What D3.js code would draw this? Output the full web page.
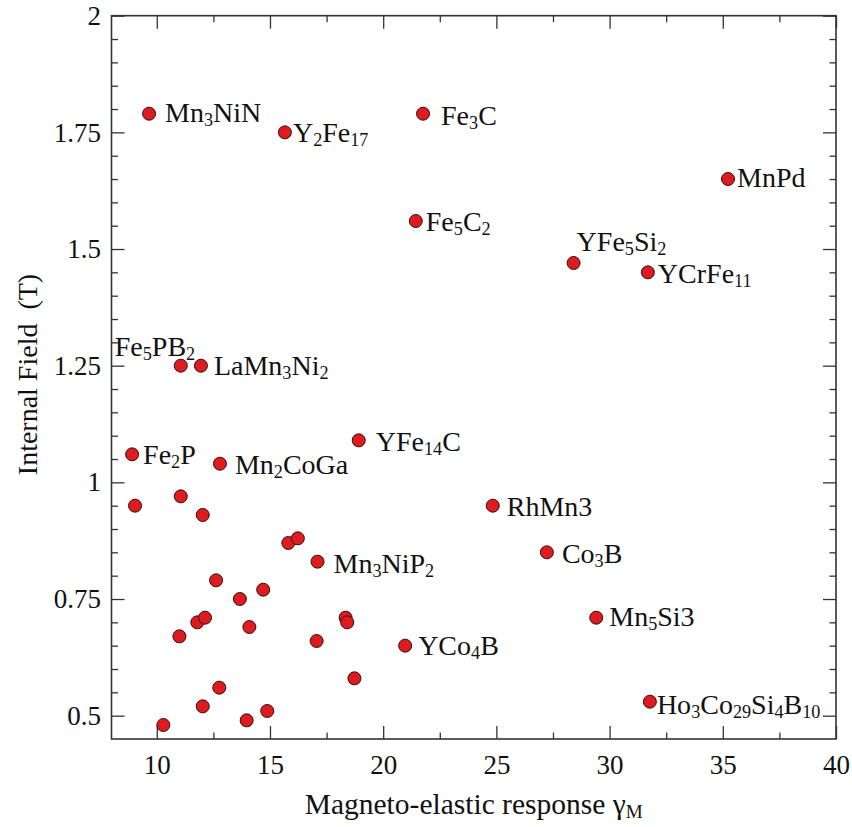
<!DOCTYPE html>
<html>
<head>
<meta charset="utf-8">
<script src="https://cdn.jsdelivr.net/npm/d3@7"></script>
<style>
  html, body { margin: 0; padding: 0; background: #fff; }
  svg { display: block; }
  text { font-family: "Liberation Serif", "Times New Roman", serif; fill: #111; }
</style>
</head>
<body>
<svg id="chart" width="852" height="827"></svg>
<script>
// Compounds: "_n" marks a subscript; empty string means an unlabeled point
const compounds = [
  "Mn_3NiN", "Y_2Fe_17", "Fe_3C", "Fe_5C_2", "MnPd", "YFe_5Si_2", "YCrFe_11",
  "Fe_5PB_2", "LaMn_3Ni_2", "Fe_2P", "Mn_2CoGa", "YFe_14C", "RhMn3", "Co_3B",
  "Mn_5Si3", "Mn_3NiP_2", "YCo_4B", "Ho_3Co_29Si_4B_10",
  "", "", "", "", "", "", "", "", "", "", "", "", "", "", "", "", "", "", "", "", ""
];
// Magneto-elastic response γ_M
const gammaM = [
  9.66, 15.66, 21.76, 21.44, 35.23, 28.41, 31.69,
  11.06, 11.95, 8.91, 12.79, 18.92, 24.84, 27.23,
  29.41, 17.1, 20.97, 31.78,
  9.04, 11.06, 12.03, 15.81, 16.23, 12.62, 13.67, 14.70, 11.79, 12.13, 14.09,
  11.0, 18.34, 18.41, 17.06, 18.73, 12.76, 12.03, 14.88, 13.97, 10.29
];
// Internal field (T)
const internalField = [
  1.79, 1.75, 1.79, 1.56, 1.65, 1.47, 1.45,
  1.25, 1.25, 1.06, 1.04, 1.09, 0.95, 0.85,
  0.71, 0.83, 0.65, 0.53,
  0.95, 0.97, 0.93, 0.87, 0.88, 0.79, 0.75, 0.77, 0.70, 0.71, 0.69,
  0.67, 0.71, 0.70, 0.66, 0.58, 0.56, 0.52, 0.51, 0.49, 0.48
];
const xMajorTicks = [10, 15, 20, 25, 30, 35, 40];
const xMinorTicks = [12.5, 17.5, 22.5, 27.5, 32.5, 37.5];
const yMajorTicks = [0.5, 0.75, 1, 1.25, 1.5, 1.75, 2];
const yMinorTicks = [0.55, 0.6, 0.65, 0.7, 0.8, 0.85, 0.9, 0.95, 1.05, 1.1, 1.15, 1.2,
                     1.3, 1.35, 1.4, 1.45, 1.55, 1.6, 1.65, 1.7, 1.8, 1.85, 1.9, 1.95];

// Label placement relative to each marker (pixels: dx, dy to text baseline)
const labelNudge = [
  [16, 8], [8, 10], [18, 11], [10, 10], [9, 8], [3, -12], [10, 11],
  [-66, -10], [13, 9], [11, 10], [15, 10], [17, 11], [14, 10], [15, 11],
  [13, 8], [16, 11], [13, 9], [7, 12]
];

const svg = d3.select("#chart");
const plot = { left: 111.5, right: 836, top: 15.7, bottom: 739 };

const x = d3.scaleLinear().domain([8, 40]).range([plot.left, plot.right]);
const y = d3.scaleLinear().domain([0.45, 2]).range([plot.bottom, plot.top]);

const axisColor = "#333";
const tickFont = 27;
const labelFont = 28;
const fmt = d => String(+d.toFixed(2));

function styleAxis(g) {
  g.attr("font-family", null);
  g.select(".domain").remove();
  g.selectAll(".tick line").attr("stroke", axisColor).attr("stroke-width", 1.3);
  g.selectAll(".tick text").attr("font-size", tickFont).attr("fill", "#111");
}

// Bottom axis (labelled) and top mirror, ticks pointing inward
svg.append("g").attr("transform", `translate(0,${plot.bottom})`)
  .call(d3.axisBottom(x).tickValues(xMajorTicks).tickSize(-13).tickPadding(16).tickFormat(fmt))
  .call(styleAxis);
svg.append("g").attr("transform", `translate(0,${plot.bottom})`)
  .call(d3.axisBottom(x).tickValues(xMinorTicks).tickSize(-6.5).tickFormat(""))
  .call(styleAxis);
svg.append("g").attr("transform", `translate(0,${plot.top})`)
  .call(d3.axisTop(x).tickValues(xMajorTicks).tickSize(-13).tickFormat(""))
  .call(styleAxis);
svg.append("g").attr("transform", `translate(0,${plot.top})`)
  .call(d3.axisTop(x).tickValues(xMinorTicks).tickSize(-6.5).tickFormat(""))
  .call(styleAxis);

// Left axis (labelled) and right mirror
svg.append("g").attr("transform", `translate(${plot.left},0)`)
  .call(d3.axisLeft(y).tickValues(yMajorTicks).tickSize(-13).tickPadding(10.5).tickFormat(fmt))
  .call(styleAxis);
svg.append("g").attr("transform", `translate(${plot.left},0)`)
  .call(d3.axisLeft(y).tickValues(yMinorTicks).tickSize(-6.5).tickFormat(""))
  .call(styleAxis);
svg.append("g").attr("transform", `translate(${plot.right},0)`)
  .call(d3.axisRight(y).tickValues(yMajorTicks).tickSize(-13).tickFormat(""))
  .call(styleAxis);
svg.append("g").attr("transform", `translate(${plot.right},0)`)
  .call(d3.axisRight(y).tickValues(yMinorTicks).tickSize(-6.5).tickFormat(""))
  .call(styleAxis);

// Plot frame
svg.append("rect")
  .attr("x", plot.left).attr("y", plot.top)
  .attr("width", plot.right - plot.left).attr("height", plot.bottom - plot.top)
  .attr("fill", "none").attr("stroke", axisColor).attr("stroke-width", 1.6);

// Markers
const points = gammaM.map((g, i) => ({ g, f: internalField[i], name: compounds[i], i }));
svg.append("g").selectAll("circle").data(points).join("circle")
  .attr("cx", d => x(d.g)).attr("cy", d => y(d.f)).attr("r", 6.5)
  .attr("fill", "#e01b1f").attr("stroke", "#2a1010").attr("stroke-width", 1);

// Write a formula, turning "_digits" into subscripts
function writeFormula(textSel, formula, size) {
  const parts = formula.split(/_(\d+)/);
  const shift = 4;
  let lowered = false;
  parts.forEach((p, k) => {
    if (!p) return;
    const isSub = k % 2 === 1;
    const t = textSel.append("tspan").text(p);
    if (isSub) {
      t.attr("font-size", size * 0.65);
      if (!lowered) { t.attr("dy", shift); lowered = true; }
    } else if (lowered) {
      t.attr("dy", -shift); lowered = false;
    }
  });
}

const labelG = svg.append("g");
points.filter(d => d.name).forEach(d => {
  const [dx, dy] = labelNudge[d.i];
  const t = labelG.append("text")
    .attr("x", x(d.g) + dx).attr("y", y(d.f) + dy)
    .attr("font-size", labelFont);
  writeFormula(t, d.name, labelFont);
});

// Axis titles
const xt = svg.append("text")
  .attr("x", (plot.left + plot.right) / 2).attr("y", 814)
  .attr("text-anchor", "middle").attr("font-size", 29.5);
xt.append("tspan").text("Magneto-elastic response γ");
xt.append("tspan").attr("font-size", 29.5 * 0.65).attr("dy", 4).text("M");

svg.append("text")
  .attr("transform", `translate(37,374.5) rotate(-90)`)
  .attr("text-anchor", "middle").attr("font-size", 28)
  .style("white-space", "pre")
  .text("Internal Field  (T)");
</script>
</body>
</html>
